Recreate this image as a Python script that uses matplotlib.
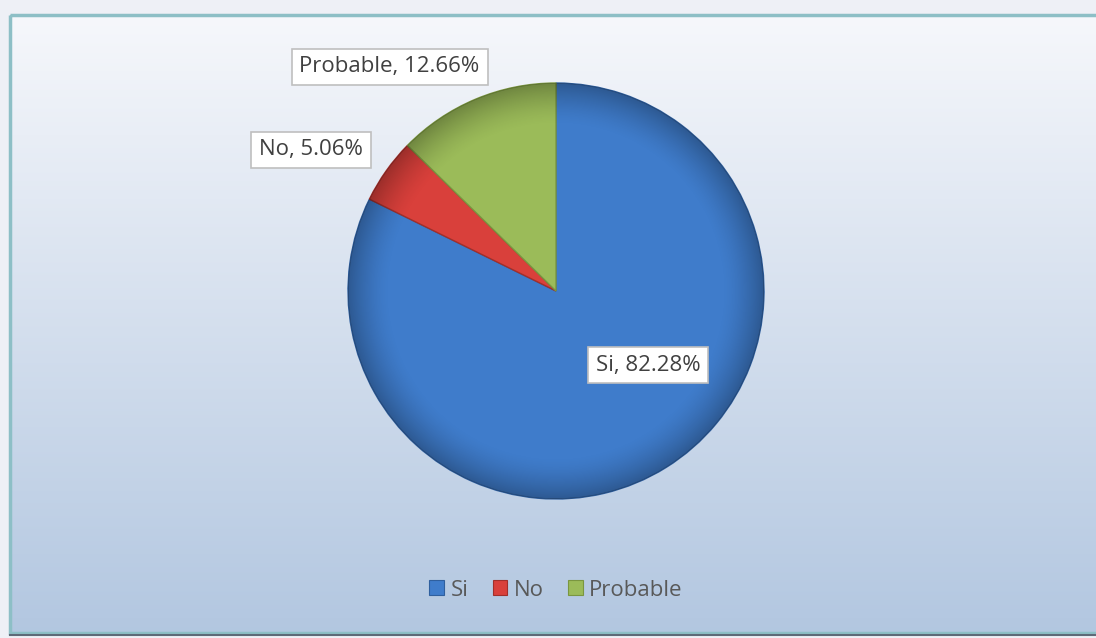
import matplotlib.pyplot as plt
import numpy as np
from matplotlib.patches import Rectangle, Circle

# datos
categorias = ['Si', 'No', 'Probable']
porcentajes = [82.28, 5.06, 12.66]
colores = ['#3F7CCB', '#D9403B', '#9BBB59']
bordes = ['#2F5F9E', '#A12F2B', '#7A9640']

fig = plt.figure(figsize=(10.96, 6.38), dpi=100)

# fondo con degradado
bg = fig.add_axes([0, 0, 1, 1])
bg.set_xlim(0, 1096)
bg.set_ylim(638, 0)
bg.axis('off')
bg.add_patch(Rectangle((0, 0), 1096, 638, color='#EEF0F6', zorder=0))
grad = np.linspace(0, 1, 256).reshape(-1, 1)
top = np.array([0.965, 0.970, 0.985])
bottom = np.array([0.70, 0.78, 0.88])
img = top + (bottom - top) * grad[..., None]
bg.imshow(img, extent=(10, 1096, 633, 15), aspect='auto', zorder=1)
bg.add_patch(Rectangle((10, 15), 1090, 618, fill=False, edgecolor='#8DBFC6', lw=2.5, zorder=2))
bg.plot([10, 1096], [634.5, 634.5], color='#5E6A78', lw=1.5, zorder=3)

# pastel
ax = fig.add_axes([(556 - 208) / 1096, (638 - 291 - 208) / 638, 416 / 1096, 416 / 638])
wedges, _ = ax.pie(porcentajes, colors=colores, startangle=90, counterclock=False,
                   wedgeprops={'linewidth': 1.0})
for w, b in zip(wedges, bordes):
    w.set_edgecolor(b)
ax.set_xlim(-1, 1)
ax.set_ylim(-1, 1)
ax.set_aspect('auto')

# sombreado tipo Excel (oscurece el borde del círculo)
yy, xx = np.mgrid[1:-1:400j, -1:1:400j]
r = np.sqrt(xx ** 2 + yy ** 2)
shade = np.zeros((400, 400, 4))
shade[..., 3] = np.clip((r - 0.80) / 0.20, 0, 1) ** 1.5 * 0.28
sh = ax.imshow(shade, extent=(-1, 1, -1, 1), aspect='auto', zorder=3)
sh.set_clip_path(Circle((0, 0), 1, transform=ax.transData))

# etiquetas
pos_etiquetas = [(0.442, -0.356), (-1.178, 0.678), (-0.80, 1.077)]
for cat, val, (x, y) in zip(categorias, porcentajes, pos_etiquetas):
    ax.text(x, y, f'{cat}, {val:.2f}%', ha='center', va='center', fontsize=16,
            color='#404040', family='Open Sans', clip_on=False, zorder=5,
            bbox=dict(boxstyle='square,pad=0.35', fc='white', ec='#BFBFBF', lw=1.2))

# leyenda
handles = [plt.Rectangle((0, 0), 1, 1, fc=c, ec=b, lw=0.8) for c, b in zip(colores, bordes)]
fig.legend(handles, categorias, loc='center', bbox_to_anchor=(556 / 1096, 1 - 590 / 638),
           ncol=3, frameon=False, handlelength=0.65, handleheight=0.65,
           handletextpad=0.3, columnspacing=1.1, labelcolor='#595959',
           prop={'family': 'Open Sans', 'size': 16})

plt.savefig('out.png', dpi=100)
